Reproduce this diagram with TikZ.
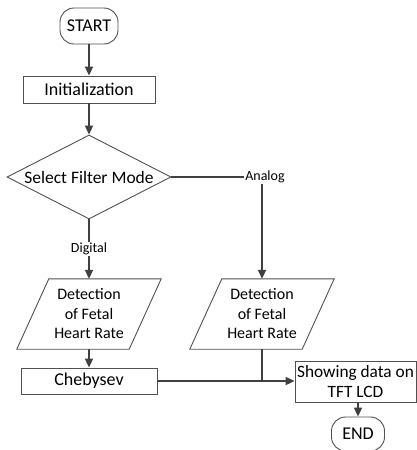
\documentclass[tikz,border=0pt]{standalone}
\usepackage{fontspec}
\setmainfont{Carlito}
\usetikzlibrary{shapes.geometric,arrows.meta}
\definecolor{lc}{HTML}{404040}
\definecolor{bc}{HTML}{505050}
\begin{document}
\begin{tikzpicture}[x=1pt,y=-1pt,
  box/.style={draw=bc, line width=0.9pt, fill=white, inner sep=0pt, align=center},
  term/.style={box, rounded corners=14pt},
  para/.style={inner sep=0pt, align=center, minimum width=112pt, minimum height=70pt, font=\fontsize{16}{19.5}\selectfont},
  lbl/.style={inner sep=1pt, font=\fontsize{14}{16}\selectfont},
  conn/.style={draw=lc, line width=2pt},
  arr/.style={conn, -{Triangle[width=8pt,length=9pt]}},
  big/.style={font=\fontsize{18}{20}\selectfont}
]
\useasboundingbox (0,0) rectangle (417,450);
\node[term, big, minimum width=58pt, minimum height=36pt] (start) at (89,26) {START};
\node[box, big, minimum width=132pt, minimum height=27pt] (init) at (89,89.5) {Initialization};
\node[diamond, draw=bc, line width=0.9pt, inner sep=0pt, minimum width=164pt, minimum height=84pt,
  label={[font=\fontsize{17.5}{20}\selectfont]center:Select Filter Mode}] (dec) at (89,177) {};
\node[lbl] (analog) at (265,177) {Analog};
\node[lbl] (digital) at (89,249) {Digital};
\node[para] (p1) at (89,314) {Detection\\of Fetal\\Heart Rate};
\node[para] (p2) at (262,314) {Detection\\of Fetal\\Heart Rate};
\foreach \p in {p1,p2}{
  \draw[bc, line width=0.9pt] ([xshift=16pt]\p.north west) -- ([xshift=16pt]\p.north east)
    -- ([xshift=-16pt]\p.south east) -- ([xshift=-16pt]\p.south west) -- cycle;
}
\node[box, big, minimum width=136pt, minimum height=26pt] (cheb) at (89,381) {Chebysev};
\node[box, font=\fontsize{17.3}{20}\selectfont, minimum width=121pt, minimum height=41pt] (show) at (355.5,381.5) {Showing data on\\TFT LCD};
\node[term, big, minimum width=53pt, minimum height=34pt] (end) at (358,434) {END};
\coordinate (join) at (p2.south |- cheb.east);

\draw[arr] (start) -- (init);
\draw[arr] (init) -- (dec);
\draw[conn] (dec.east) -- (analog.west);
\draw[arr] (analog.south -| p2.north) -- (p2.north);
\draw[conn] (dec.south) -- (digital.north);
\draw[arr] (digital.south) -- (p1.north);
\draw[arr] (p1.south) -- (cheb.north);
\draw[conn] (p2.south) -- (join);
\draw[arr] (cheb.east) -- (show.west |- cheb.east);
\draw[arr] (show.south -| end.north) -- (end.north);
\end{tikzpicture}
\end{document}
